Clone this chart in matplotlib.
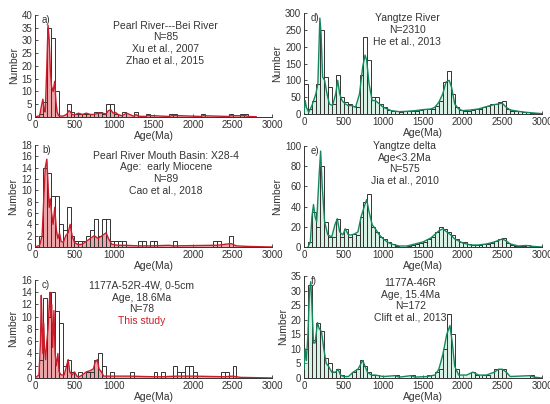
import matplotlib
matplotlib.use('Agg')
import matplotlib.pyplot as plt
import numpy as np

plt.rcParams['font.family'] = ['Liberation Sans', 'DejaVu Sans']

# histogram bins (left edge, Ma) and counts; 50 Ma bins
bins_a = [50, 100, 150, 200, 250, 400, 450, 500, 550, 600, 650, 750, 800, 850, 900, 950,
          1000, 1100, 1250, 1400, 1700, 1750, 2100, 2450, 2600, 2650]
counts_a = [1, 6, 35, 31, 10, 5, 2, 1, 1, 1, 1, 2, 2, 1, 5, 5,
            1, 2, 2, 1, 1, 1, 1, 1, 1, 1]

bins_b = [50, 100, 150, 200, 250, 300, 350, 400, 450, 500, 550, 600, 650, 700, 750, 800,
          850, 900, 950, 1000, 1050, 1100, 1300, 1350, 1450, 1500, 1750, 2250, 2300, 2450]
counts_b = [2, 14, 13, 9, 9, 4, 3, 7, 2, 1, 1, 1, 2, 3, 5, 2,
            5, 5, 1, 1, 1, 1, 1, 1, 1, 1, 1, 1, 1, 2]

bins_c = [50, 100, 150, 200, 250, 300, 350, 400, 450, 550, 650, 700, 750, 800, 850, 950,
          1200, 1500, 1600, 1750, 1800, 1850, 1900, 1950, 2000, 2350, 2400, 2500]
counts_c = [3, 13, 10, 14, 11, 9, 2, 3, 1, 1, 1, 1, 3, 4, 2, 1,
            1, 1, 1, 2, 1, 1, 2, 2, 1, 1, 1, 2]

bins_full = list(range(0, 3000, 50))
counts_d = [90, 15, 40, 90, 250, 110, 80, 30, 115, 50, 35, 30, 25, 20, 115, 230,
            160, 50, 50, 30, 20, 12, 8, 8, 6, 8, 10, 8, 10, 12, 15, 15,
            15, 25, 40, 95, 128, 60, 20, 12, 10, 10, 12, 15, 15, 22, 25, 30,
            30, 35, 40, 15, 10, 8, 8, 5, 5, 4, 3, 2]
counts_e = [0, 5, 35, 20, 80, 25, 10, 10, 28, 10, 18, 10, 13, 12, 30, 45,
            52, 20, 15, 10, 8, 5, 3, 1, 0, 0, 1, 2, 3, 4, 5, 8,
            10, 15, 20, 18, 15, 12, 8, 5, 5, 3, 2, 2, 2, 3, 3, 4,
            6, 8, 9, 4, 2, 1, 1, 1, 2, 1, 0, 0]

bins_f = [0, 50, 100, 150, 200, 250, 300, 350, 400, 450, 600, 650, 700, 750, 800, 850,
          900, 1150, 1350, 1550, 1650, 1700, 1750, 1800, 1850, 1900, 2100, 2150, 2250, 2300,
          2400, 2450, 2500, 2850]
counts_f = [10, 32, 13, 19, 16, 7, 5, 2, 3, 1, 2, 3, 6, 4, 2, 1,
            1, 1, 1, 1, 2, 3, 10, 22, 15, 3, 2, 1, 1, 1,
            3, 3, 3, 1]

# age-probability curves (age Ma, height)
curve_a = [(0, 0), (60, 0.5), (80, 4), (100, 7), (115, 3), (130, 2), (150, 20), (165, 36),
           (180, 30), (195, 18), (210, 12), (230, 10), (250, 14), (265, 6), (280, 2), (300, 0.5),
           (350, 0.3), (400, 1), (430, 2.5), (450, 2), (470, 1), (500, 0.8), (550, 1.5), (600, 1),
           (650, 1.5), (700, 1), (750, 1), (800, 1.5), (850, 1.5), (900, 1.2), (930, 2.5), (960, 2.8),
           (990, 1.5), (1020, 1.8), (1050, 1), (1100, 0.5), (1130, 1), (1160, 1.5), (1250, 0.3),
           (1280, 1), (1310, 0.3), (1400, 0.2), (1430, 0.6), (1700, 0.2), (1730, 0.5), (1760, 0.6),
           (2100, 0.2), (2130, 0.5), (2450, 0.2), (2480, 0.5), (2620, 0.5), (2660, 0.6), (2700, 0.2),
           (2800, 0.1)]
curve_b = [(0, 0), (60, 0.3), (90, 2), (110, 8), (130, 14), (150, 15.5), (165, 11), (180, 7),
           (195, 8.5), (210, 6), (230, 4), (250, 7), (270, 3), (290, 1.5), (310, 2.5), (330, 1),
           (360, 0.8), (390, 2), (420, 2.5), (445, 4), (470, 2), (500, 0.8), (550, 0.4), (600, 0.5),
           (650, 1), (700, 1.5), (750, 2), (800, 1.5), (850, 2), (900, 2.5), (930, 1.5), (970, 0.5),
           (1050, 0.3), (1150, 0.3), (1300, 0.2), (1450, 0.2), (1700, 0.3), (1750, 0.2), (2250, 0.3),
           (2300, 0.3), (2480, 0.6), (2550, 0.2), (2700, 0.1), (3000, 0)]
curve_c = [(0, 0), (50, 0.5), (70, 6), (80, 13.5), (90, 8), (100, 4), (110, 9), (120, 5),
           (135, 3), (150, 6), (165, 8), (180, 12), (190, 14), (200, 10), (210, 12), (225, 5),
           (240, 11), (255, 4), (270, 2), (290, 4), (305, 1), (330, 0.5), (370, 0.5), (400, 2),
           (420, 3), (440, 1), (470, 0.5), (500, 1), (530, 0.3), (560, 0.2), (600, 0.5), (650, 1),
           (700, 1.2), (740, 1.5), (760, 2.5), (790, 3), (810, 1.5), (840, 1), (870, 0.3), (950, 0.3),
           (1200, 0.3), (1500, 0.2), (1600, 0.2), (1800, 0.3), (1900, 0.3), (2000, 0.3), (2400, 0.2),
           (2500, 0.3), (2600, 0.1), (3000, 0)]
curve_d = [(0, 5), (15, 40), (30, 20), (60, 5), (100, 25), (150, 60), (175, 90), (200, 285),
           (215, 240), (235, 110), (260, 100), (290, 60), (320, 30), (360, 25), (400, 60), (425, 100),
           (450, 60), (480, 40), (520, 30), (560, 25), (600, 25), (650, 20), (700, 60), (740, 140),
           (770, 175), (790, 160), (820, 90), (860, 40), (900, 40), (950, 30), (1000, 20), (1050, 15),
           (1100, 10), (1200, 7), (1300, 8), (1400, 10), (1500, 13), (1600, 15), (1650, 20), (1700, 35),
           (1750, 60), (1790, 95), (1830, 100), (1860, 80), (1900, 30), (1950, 15), (2000, 10),
           (2100, 12), (2200, 15), (2300, 22), (2400, 28), (2450, 30), (2500, 32), (2550, 20),
           (2600, 12), (2700, 8), (2800, 5), (2900, 3), (3000, 1)]
curve_e = [(50, 0), (80, 5), (100, 30), (120, 42), (140, 30), (160, 25), (190, 70), (210, 95),
           (230, 60), (260, 25), (300, 12), (350, 10), (390, 22), (420, 28), (450, 15), (490, 12),
           (520, 18), (560, 12), (600, 12), (640, 13), (680, 15), (720, 30), (760, 40), (790, 47),
           (820, 35), (860, 22), (900, 18), (950, 12), (1000, 8), (1050, 5), (1100, 3), (1200, 1),
           (1300, 1), (1400, 3), (1500, 5), (1600, 9), (1700, 16), (1750, 18), (1800, 15), (1850, 12),
           (1900, 8), (2000, 4), (2100, 2), (2200, 2), (2300, 3), (2400, 5), (2500, 8), (2550, 6),
           (2600, 3), (2700, 1), (2800, 1.5), (2900, 0.5), (3000, 0)]
curve_f = [(0, 3), (15, 10), (30, 6), (50, 15), (70, 30), (85, 33), (100, 25), (120, 12),
           (140, 12), (170, 19), (190, 17), (220, 16), (250, 10), (280, 5), (310, 4), (350, 2),
           (400, 2), (430, 3), (460, 1), (500, 0.5), (560, 0.5), (620, 2), (680, 3), (720, 5),
           (740, 6), (770, 4), (800, 2), (850, 1), (900, 1), (1000, 0.5), (1150, 0.8), (1200, 0.3),
           (1350, 0.8), (1400, 0.3), (1550, 0.5), (1650, 1), (1700, 3), (1750, 8), (1800, 15),
           (1840, 18), (1870, 12), (1900, 4), (1950, 1), (2050, 1), (2130, 2), (2200, 1), (2300, 1),
           (2400, 2), (2450, 3), (2500, 3), (2550, 2), (2600, 0.5), (2850, 0.8), (2900, 0.3), (3000, 0)]

notes_a = "Pearl River---Bei River\nN=85\nXu et al., 2007\nZhao et al., 2015"
notes_b = "Pearl River Mouth Basin: X28-4\nAge:  early Miocene\nN=89\nCao et al., 2018"
notes_c = "1177A-52R-4W, 0-5cm\nAge, 18.6Ma\nN=78"
notes_d = "Yangtze River\nN=2310\nHe et al., 2013"
notes_e = "Yangtze delta\nAge<3.2Ma\nN=575\nJia et al., 2010"
notes_f = "1177A-46R\nAge, 15.4Ma\nN=172\nClift et al., 2013"

RED, RED_FILL = '#c81d2a', '#e06870'
GREEN, GREEN_FILL = '#14875c', '#8fdcb5'
INK = '#333333'

fig = plt.figure(figsize=(5.5, 4.04), dpi=100)

panels = [
    # (rect, bins, counts, curve, colors, fill alpha, ymax, ystep, label, notes, text x, text y, xticks)
    ([0.0636, 0.7104, 0.431, 0.2525], bins_a, counts_a, curve_a, (RED, RED_FILL), 0.6, 40, 5, 'a)',
     notes_a, 1650, 0.945, [0, 500, 1000, 1500, 2000, 2500, 3000]),
    ([0.0636, 0.3886, 0.431, 0.2525], bins_b, counts_b, curve_b, (RED, RED_FILL), 0.6, 18, 2, 'b)',
     notes_b, 1660, 0.945, [0, 500, 1000, 2000, 2500, 3000]),
    ([0.0636, 0.0644, 0.431, 0.2426], bins_c, counts_c, curve_c, (RED, RED_FILL), 0.6, 16, 2, 'c)',
     notes_c, 1350, 0.99, [0, 500, 1000, 2000, 2500, 3000]),
    ([0.5527, 0.7178, 0.4327, 0.25], bins_full, counts_d, curve_d, (GREEN, GREEN_FILL), 0.35, 300, 50, 'd)',
     notes_d, 1300, 1.0, [0, 500, 1000, 1500, 2000, 2500, 3000]),
    ([0.5527, 0.3886, 0.4327, 0.25], bins_full, counts_e, curve_e, (GREEN, GREEN_FILL), 0.35, 100, 20, 'e)',
     notes_e, 1270, 1.05, [0, 500, 1000, 1500, 2000, 2500, 3000]),
    ([0.5527, 0.0644, 0.4327, 0.2525], bins_f, counts_f, curve_f, (GREEN, GREEN_FILL), 0.35, 35, 5, 'f)',
     notes_f, 1340, 0.98, [0, 500, 1000, 1500, 2000, 2500, 3000]),
]

for rect, bins, counts, curve, (lc, fc), fa, ymax, ystep, label, notes, tx, ty, xt in panels:
    ax = fig.add_axes(rect)
    ax.bar(bins, counts, width=50, align='edge', facecolor='none',
           edgecolor=INK, linewidth=0.7, zorder=3)
    ages = np.array([p[0] for p in curve])
    heights = np.array([p[1] for p in curve])
    ax.fill_between(ages, 0, heights, color=fc, alpha=fa, linewidth=0, zorder=2)
    ax.plot(ages, heights, color=lc, linewidth=1.0, zorder=4)

    ax.set_xlim(0, 3000)
    ax.set_ylim(0, ymax)
    ax.set_xticks(xt)
    ax.set_yticks(np.arange(0, ymax + 1, ystep))
    ax.tick_params(direction='in', length=2.5, width=0.6, labelsize=7,
                   colors=INK, pad=2)
    for s in ('top', 'right'):
        ax.spines[s].set_visible(False)
    for s in ('left', 'bottom'):
        ax.spines[s].set_linewidth(0.7)
        ax.spines[s].set_color(INK)
    ax.set_ylabel('Number', fontsize=7.5, color=INK, labelpad=2)
    ax.set_xlabel('Age(Ma)', fontsize=7.5, color=INK, labelpad=1)

    ax.text(0.03, 1.0, label, transform=ax.transAxes, fontsize=7, color=INK,
            ha='left', va='top')
    ax.text(tx, ty, notes, transform=ax.get_xaxis_transform(), fontsize=7.5,
            color=INK, ha='center', va='top', linespacing=1.2, zorder=5)
    if label == 'c)':
        ax.text(tx, ty - 0.36, 'This study', transform=ax.get_xaxis_transform(),
                fontsize=7.5, color=RED, ha='center', va='top', zorder=5)

fig.savefig('out.png', dpi=100)
plt.close(fig)
